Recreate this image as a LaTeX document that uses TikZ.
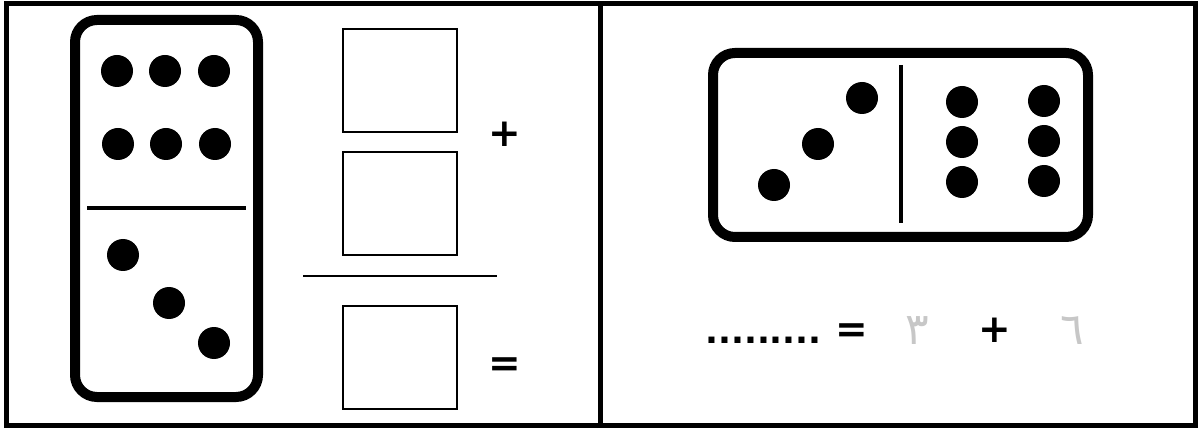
\documentclass[tikz,border=0pt]{standalone}
\usepackage{fontspec}
\newfontfamily\symfont{DejaVu Sans}
\newfontfamily\arabicfont[Script=Arabic]{DejaVu Sans}
\TeXXeTstate=1
\begin{document}
\begin{tikzpicture}[x=1pt,y=-1pt,
  pip/.style={circle,fill=black,inner sep=0pt,minimum size=32pt},
  tile/.style={draw,line width=10pt,rounded corners=22pt,inner sep=0pt},
  ansbox/.style={draw,line width=2pt,minimum width=114pt,minimum height=103pt,inner sep=0pt},
  sym/.style={font=\symfont\bfseries\fontsize{39}{44}\selectfont,inner sep=0pt},
  dotline/.style={font=\symfont\bfseries\fontsize{34}{40}\selectfont,inner sep=0pt},
  digit/.style={font=\arabicfont\fontsize{44}{50}\selectfont,text=black!22,inner sep=0pt},
  frame/.style={line width=5pt}]
\useasboundingbox (0,0) rectangle (1199,430);
\fill[white] (0,0) rectangle (1199,430);
% frame
\draw[frame] (6,4) rectangle (1195,425);
\draw[frame] (600,4) -- (600,425);
% vertical domino
\node[tile,minimum width=183pt,minimum height=377pt] (vdom) at (166.5,208.5) {};
\coordinate (vdl) at (87,208);
\coordinate (vdr) at (246,208);
\draw[line width=4pt] (vdl) -- (vdr);
\node[pip] (v1) at (117,71) {};
\node[pip] (v2) at (165,71) {};
\node[pip] (v3) at (214,71) {};
\node[pip] (v4) at (118,144) {};
\node[pip] (v5) at (166,144) {};
\node[pip] (v6) at (215,144) {};
\node[pip] (v7) at (123,255) {};
\node[pip] (v8) at (169,303) {};
\node[pip] (v9) at (214,343) {};
% answer boxes
\node[ansbox] (b1) at (400,80.5) {};
\node[ansbox] (b2) at (400,204) {};
\node[ansbox] (b3) at (400,357) {};
\coordinate (sl) at (303,276);
\coordinate (sr) at (497,276);
\draw[line width=1.2pt] (sl) -- (sr);
\node[sym] (plusL) at (505,134) {+};
\node[sym] (eqL) at (505,367) {=};
% horizontal domino
\node[tile,minimum width=375pt,minimum height=184pt] (hdom) at (900.5,145) {};
\coordinate (hdt) at (901,65);
\coordinate (hdb) at (901,223);
\draw[line width=4pt] (hdt) -- (hdb);
\node[pip] (h1) at (774,185) {};
\node[pip] (h2) at (818,144) {};
\node[pip] (h3) at (862,98) {};
\node[pip] (h4) at (962,102) {};
\node[pip] (h5) at (962,142) {};
\node[pip] (h6) at (962,182) {};
\node[pip] (h7) at (1044,101) {};
\node[pip] (h8) at (1044,141) {};
\node[pip] (h9) at (1044,181) {};
% equation
\node[dotline,anchor=base] (dots) at (763.5,343) {.........};
\node[sym] (eqR) at (852,333) {=};
\node[digit] (d3) at (917,331) {\beginR ٣\endR};
\node[sym] (plusR) at (995,330) {+};
\node[digit] (d6) at (1072,331) {\beginR ٦\endR};
\end{tikzpicture}
\end{document}
